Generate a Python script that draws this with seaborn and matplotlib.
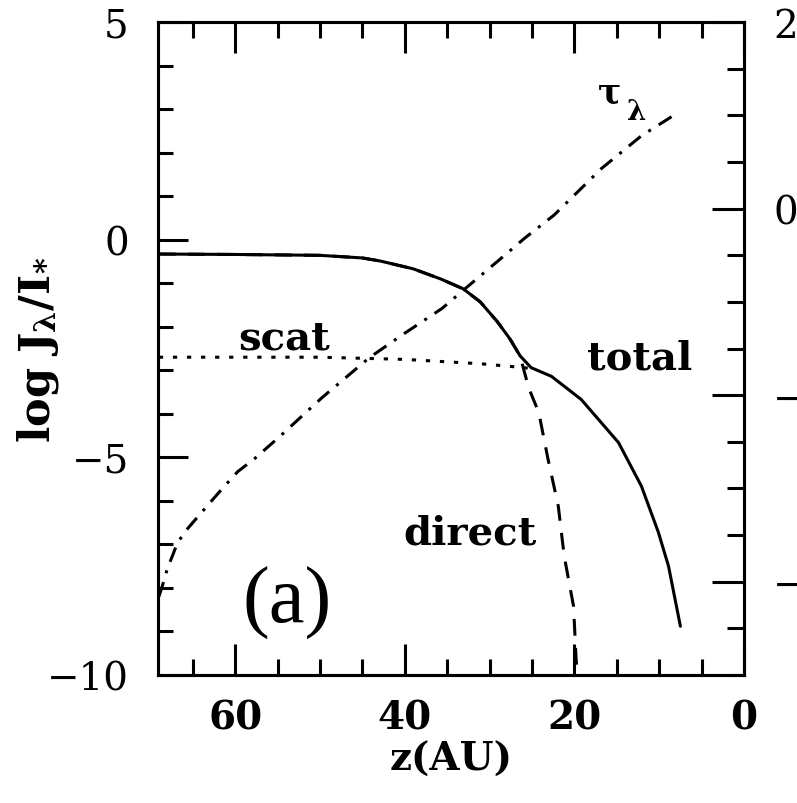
import matplotlib
matplotlib.use("Agg")
import matplotlib.pyplot as plt
from matplotlib.ticker import MultipleLocator, FixedLocator
import seaborn as sns

# --- data -------------------------------------------------------------
# height above the midplane, z (AU), and log of the mean intensity J / I*
z_total = [69.0, 60.0, 50.0, 45.0, 42.9, 39.0, 35.8, 33.1, 31.1, 29.1,
           27.6, 26.4, 25.1, 22.7, 19.2, 14.8, 12.1, 10.1, 8.9, 7.5]
logj_total = [-0.33, -0.34, -0.36, -0.42, -0.49, -0.67, -0.90, -1.13, -1.43, -1.88,
              -2.28, -2.67, -2.94, -3.14, -3.67, -4.66, -5.66, -6.72, -7.50, -8.88]

z_direct = [69.0, 60.0, 50.0, 45.0, 42.9, 39.0, 35.8, 33.1, 31.1, 29.1,
            27.6, 26.4, 25.4, 24.2, 23.1, 21.9, 21.2, 20.1, 19.8, 19.65]
logj_direct = [-0.33, -0.34, -0.36, -0.42, -0.49, -0.67, -0.90, -1.13, -1.43, -1.88,
               -2.28, -2.67, -3.40, -3.97, -5.05, -6.12, -7.27, -8.42, -9.63, -10.0]

z_scat = [69.0, 60.0, 50.0, 40.0, 31.1, 27.6, 25.5]
logj_scat = [-2.70, -2.70, -2.70, -2.75, -2.85, -2.91, -2.95]

# optical depth (right-hand axis, log tau)
z_tau = [69.0, 68.6, 68.0, 67.3, 66.8, 65.6, 63.8, 61.6, 59.7, 57.7, 54.7,
         49.8, 44.2, 40.4, 35.6, 32.9, 28.6, 25.9, 22.4, 16.8, 12.1, 8.1]
logtau = [-4.16, -4.05, -3.86, -3.70, -3.58, -3.43, -3.24, -3.01, -2.82, -2.68, -2.44,
          -2.03, -1.60, -1.36, -1.07, -0.86, -0.53, -0.32, -0.07, 0.43, 0.78, 1.01]

left_ticks = [-10, -5, 0, 5]
right_ticks = [-4, -2, 0, 2]
x_ticks = [60, 40, 20, 0]

# --- style ------------------------------------------------------------
sns.set_theme(style="white")
plt.rcParams["font.family"] = ["DejaVu Serif"]
plt.rcParams["mathtext.fontset"] = "custom"
plt.rcParams["mathtext.rm"] = "DejaVu Serif:bold"
plt.rcParams["mathtext.it"] = "DejaVu Serif:bold"
plt.rcParams["mathtext.bf"] = "DejaVu Serif:bold"

LW = 2.2
INK = "black"

fig = plt.figure(figsize=(7.97, 8.04), dpi=100)
ax = fig.add_axes([158 / 797, 1 - 676 / 804, 586 / 797, 653 / 804])
ax2 = ax.twinx()

sns.lineplot(x=z_total, y=logj_total, ax=ax, color=INK, lw=LW,
             sort=False, estimator=None)
sns.lineplot(x=z_direct, y=logj_direct, ax=ax, color=INK, lw=LW,
             linestyle=(0, (5.5, 4)), sort=False, estimator=None)
sns.lineplot(x=z_scat, y=logj_scat, ax=ax, color=INK, lw=LW,
             linestyle=(0, (1.4, 3.2)), sort=False, estimator=None)
sns.lineplot(x=z_tau, y=logtau, ax=ax2, color=INK, lw=LW,
             linestyle=(0, (5, 3, 1, 3)), sort=False, estimator=None)

# --- axes -------------------------------------------------------------
ax.set_xlim(69.1, 0)
ax.set_ylim(-10, 5)
ax2.set_ylim(-5, 2)

ax.xaxis.set_major_locator(FixedLocator(x_ticks))
ax.xaxis.set_minor_locator(MultipleLocator(5))
ax.yaxis.set_major_locator(FixedLocator(left_ticks))
ax.yaxis.set_minor_locator(MultipleLocator(1))
ax2.yaxis.set_major_locator(FixedLocator(right_ticks))
ax2.yaxis.set_minor_locator(MultipleLocator(0.5))

ax.tick_params(axis="x", which="both", direction="in", top=True, bottom=True,
               width=LW, color=INK, pad=17)
ax.tick_params(axis="x", which="major", length=22)
ax.tick_params(axis="x", which="minor", length=11.5)
ax.tick_params(axis="y", which="both", direction="in", left=True, right=False,
               width=LW, color=INK, pad=21)
ax.tick_params(axis="y", which="major", length=21.5)
ax.tick_params(axis="y", which="minor", length=11)
ax2.tick_params(axis="y", which="both", direction="in", left=False, right=True,
                width=LW, color=INK, pad=21)
ax2.tick_params(axis="y", which="major", length=23)
ax2.tick_params(axis="y", which="minor", length=12)
ax2.tick_params(axis="x", which="both", bottom=False, top=False,
                labelbottom=False, labeltop=False)

for lab in ax.get_xticklabels():
    lab.set_fontsize(28)
    lab.set_fontweight("bold")
    lab.set_color(INK)
for lab in ax.get_yticklabels() + ax2.get_yticklabels():
    lab.set_fontsize(28)
    lab.set_color(INK)

for a in (ax, ax2):
    for sp in a.spines.values():
        sp.set_visible(True)
        sp.set_linewidth(LW)
        sp.set_color(INK)

ax.set_xlabel("z(AU)", fontsize=28, fontweight="bold", labelpad=2, color=INK)
ax.set_ylabel(r"log J$_\mathrm{λ}$/I$_\mathrm{*}$", fontsize=31, fontweight="bold",
              color=INK)
ax.yaxis.set_label_coords(-0.166, 0.5)

# --- curve labels ------------------------------------------------------
label_kw = dict(fontsize=29, fontweight="bold", color=INK, ha="center", va="baseline")
ax.text(54.2, -2.51, "scat", **label_kw)
ax.text(12.3, -2.97, "total", **label_kw)
ax.text(32.3, -6.99, "direct", **label_kw)
ax.text(15.9, 3.15, "τ", fontsize=25, fontweight="bold", color=INK,
        ha="center", va="baseline")
ax.text(12.7, 2.78, "λ", fontsize=20, fontweight="bold", color=INK,
        ha="center", va="baseline")
ax.text(53.9, -8.78, "(a)", fontsize=58, fontfamily=["Liberation Serif"], color=INK,
        ha="center", va="baseline")

fig.savefig("out.png", dpi=100, facecolor="white")
